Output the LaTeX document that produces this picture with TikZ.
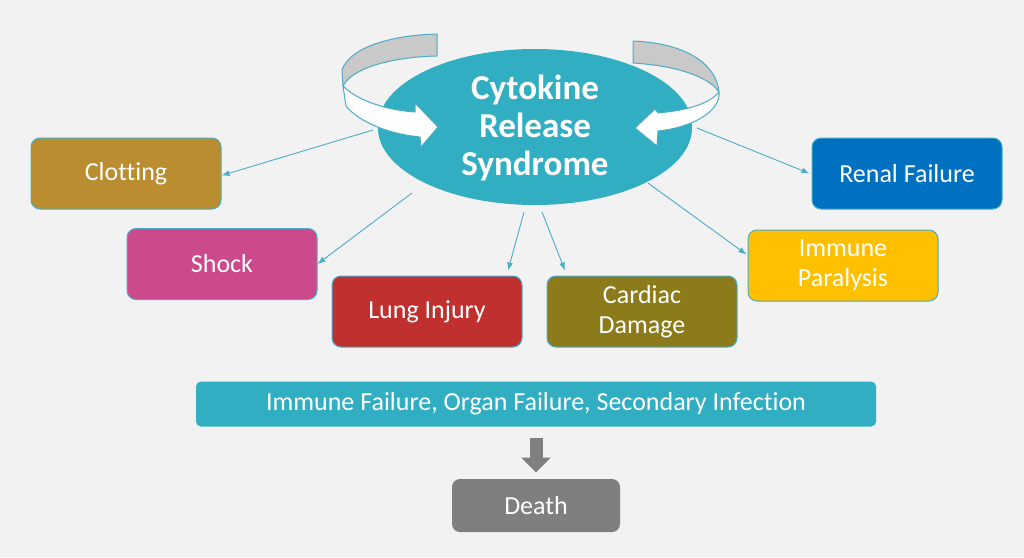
\documentclass[tikz,border=0pt]{standalone}
\usepackage{fontspec}
\setmainfont{Carlito}[Ligatures={NoCommon,NoContextual}]
\usetikzlibrary{arrows.meta,calc,shapes.geometric}
\definecolor{bgc}{HTML}{F2F2F2}
\definecolor{tealc}{HTML}{31AEC2}
\definecolor{linec}{HTML}{4BACC6}
\definecolor{clotc}{HTML}{BA8D30}
\definecolor{shockc}{HTML}{CC4A8C}
\definecolor{lungc}{HTML}{C0302F}
\definecolor{cardc}{HTML}{8B7B1B}
\definecolor{immc}{HTML}{FFC000}
\definecolor{renalc}{HTML}{0070C0}
\definecolor{deathc}{HTML}{7F7F7F}
\definecolor{ribbonc}{HTML}{C9C9C9}
\begin{document}
\begin{tikzpicture}[x=1pt,y=-1pt,
  box/.style={draw=linec, line width=1pt, rounded corners=9pt, minimum width=190pt,
    minimum height=71pt, inner sep=0pt, text=white, align=center,
    font=\fontsize{26}{30}\selectfont},
  conn/.style={draw=linec, line width=0.9pt, -{Latex[length=8pt,width=6pt]}},
  ribbon/.style={draw=linec, line width=1pt, line join=round}]
\useasboundingbox (0,0) rectangle (1024,557);
\fill[bgc] (0,0) rectangle (1024,557);

% central ellipse
\node[ellipse, fill=tealc, minimum width=314pt, minimum height=154pt, inner sep=0pt] (csr) at (535,126) {};

% boxes
\node[box, fill=clotc] (clot) at (126,173.5) {Clotting};
\node[box, fill=shockc] (shock) at (222,264) {Shock};
\node[box, fill=lungc] (lung) at (427,311.5) {Lung Injury};
\node[box, fill=cardc] (card) at (642,311.5) {Cardiac\\Damage};
\node[box, fill=immc] (imm) at (843,265.5) {Immune\\Paralysis};
\node[box, fill=renalc] (renal) at (907,173.5) {Renal Failure};
\node[box, fill=tealc, draw=none, rounded corners=5pt, minimum width=680pt, minimum height=45pt] (bar) at (536,404)
  {Immune Failure, Organ Failure, Secondary Infection};
\node[box, fill=deathc, draw=none, rounded corners=8pt, minimum width=168pt, minimum height=53pt] (death) at (536,505.5) {Death};

% connectors
\draw[conn] ($(csr.center)+(-162,4)$) -- ([yshift=-2pt]clot.east);
\draw[conn] ($(csr.center)+(-123,67)$) -- (shock.east);
\draw[conn] ($(csr.center)+(-11,86)$) -- ([xshift=81pt,yshift=5pt]lung.north);
\draw[conn] ($(csr.center)+(7,86)$) -- ([xshift=-77pt,yshift=5pt]card.north);
\draw[conn] ($(csr.center)+(113,57)$) -- ([yshift=11pt,xshift=-1pt]imm.west);
\draw[conn] ($(csr.center)+(162,2)$) -- ([xshift=-2pt]renal.west);

% ellipse drawn over line starts, with its title
\node[ellipse, fill=tealc, minimum width=314pt, minimum height=154pt, inner sep=0pt,
  text=white, align=center, font=\bfseries\fontsize{35}{38}\selectfont] (title) at ([yshift=-2pt]csr.center)
  {Cytokine\\Release\\Syndrome};

% left curved arrow
\filldraw[ribbon, fill=ribbonc] (437,34) .. controls (395,35) and (350,46) .. (342,70)
  -- (343,86) .. controls (352,68) and (392,57) .. (437,56) -- cycle;
\filldraw[ribbon, fill=white] (343,86) -- (346,106) .. controls (360,123) and (390,134) .. (420,137)
  -- (421,147) -- (438,127) -- (415,103) -- (415,112)
  .. controls (385,110) and (357,100) .. (343,86) -- cycle;

% right curved arrow
\filldraw[ribbon, fill=ribbonc] (633,41) .. controls (683,43) and (716,62) .. (719,92)
  .. controls (710,78) and (680,66) .. (633,63) -- cycle;
\filldraw[ribbon, fill=white] (719,92) .. controls (721,110) and (695,127) .. (658,131)
  -- (657,146) -- (635,128) -- (655,109) -- (658,113)
  .. controls (690,110) and (710,103) .. (719,92) -- cycle;

% down arrow to death
\draw[draw=deathc, line width=13pt, shorten <=11pt, shorten >=6pt,
  -{Triangle[width=29pt,length=15pt]}] (bar.south) -- (death.north);
\end{tikzpicture}
\end{document}
